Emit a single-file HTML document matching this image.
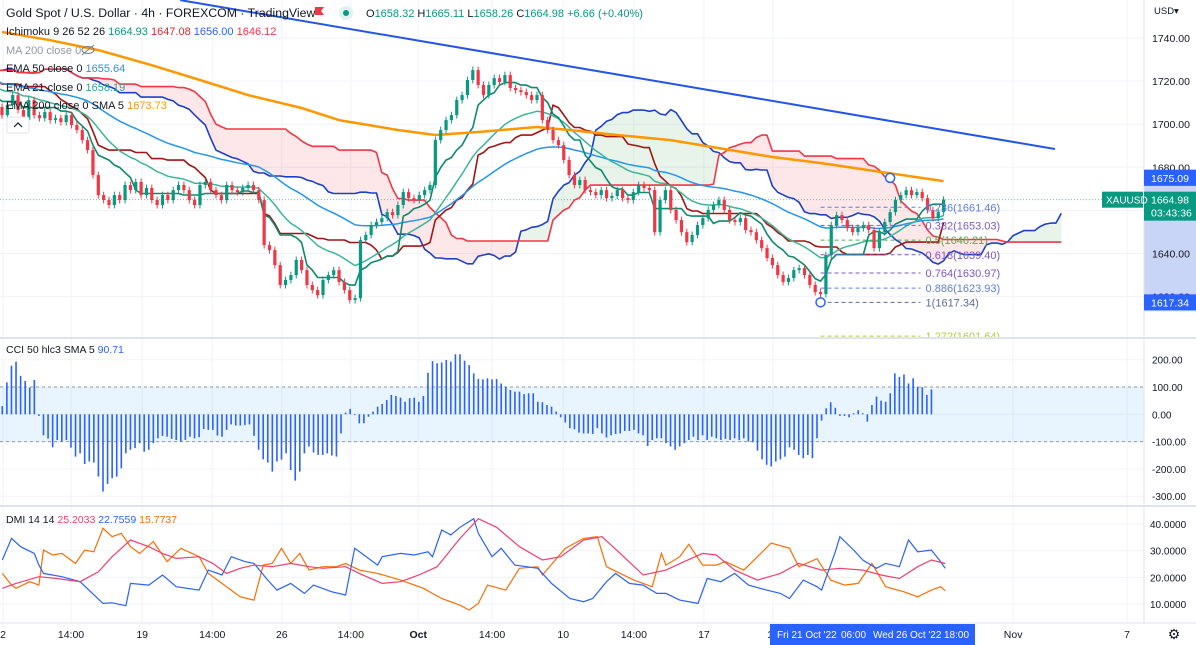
<!DOCTYPE html>
<html><head><meta charset="utf-8">
<style>
body{margin:0;background:#fff;font-family:"Liberation Sans",sans-serif;}
#wrap{position:relative;width:1196px;height:645px;overflow:hidden;}
svg{position:absolute;left:0;top:0;}
text{font-family:"Liberation Sans",sans-serif;}
</style></head>
<body>
<div id="wrap">
<svg id="c" width="1196" height="645" viewBox="0 0 1196 645">
<defs>
<clipPath id="mainClip"><rect x="0" y="0" width="1144" height="337"/></clipPath>
<clipPath id="cciClip"><rect x="0" y="339" width="1144" height="166"/></clipPath>
<clipPath id="dmiClip"><rect x="0" y="507" width="1144" height="115"/></clipPath>
</defs>
<g id="grid"></g>
<g id="main" clip-path="url(#mainClip)"></g>
<g id="cci" clip-path="url(#cciClip)"></g>
<g id="dmi" clip-path="url(#dmiClip)"></g>
<g id="axes"></g>
<g id="overlay">
 <text x="6" y="17" font-size="12.3" fill="#131722">Gold Spot / U.S. Dollar · 4h · FOREXCOM · TradingView</text>
 <path d="M315 7 h9 l-3 4 l3 4 h-9 z" fill="#f23645"/>
 <circle cx="346" cy="13" r="7" fill="#e0f2ef"/>
 <circle cx="346" cy="13" r="3" fill="#089981"/>
 <text x="366" y="17" font-size="11" fill="#089981"><tspan fill="#131722">O</tspan>1658.32 <tspan fill="#131722">H</tspan>1665.11 <tspan fill="#131722">L</tspan>1658.26 <tspan fill="#131722">C</tspan>1664.98 +6.66 (+0.40%)</text>
 <text x="6" y="35" font-size="11" fill="#131722">Ichimoku 9 26 52 26 <tspan fill="#089981">1664.93</tspan> <tspan fill="#d32f2f">1647.08</tspan> <tspan fill="#2962ff">1656.00</tspan> <tspan fill="#f23645">1646.12</tspan></text>
 <text x="6" y="54" font-size="11" fill="#9598a1">MA 200 close 0</text>
 <g><ellipse cx="88" cy="50" rx="6" ry="3.5" fill="none" stroke="#787b86"/><line x1="82" y1="55" x2="94" y2="45" stroke="#787b86"/></g>
 <text x="6" y="72" font-size="11" fill="#131722">EMA 50 close 0 <tspan fill="#2196f3">1655.64</tspan></text>
 <text x="6" y="91" font-size="11" fill="#131722">EMA 21 close 0 <tspan fill="#26a69a">1658.19</tspan></text>
 <text x="6" y="109" font-size="11" fill="#131722">EMA 200 close 0 SMA 5 <tspan fill="#ff9800">1673.73</tspan></text>
 <g><rect x="7" y="117" width="22" height="16" rx="2" fill="#fff" stroke="#e0e3eb"/><path d="M14 127 l4 -4 l4 4" fill="none" stroke="#131722" stroke-width="1.2"/></g>
 <text x="6" y="353" font-size="10.5" fill="#131722">CCI 50 hlc3 SMA 5 <tspan fill="#2962ff">90.71</tspan></text>
 <text x="6" y="523" font-size="10.5" fill="#131722">DMI 14 14 <tspan fill="#f23f6e">25.2033</tspan> <tspan fill="#2962ff">22.7559</tspan> <tspan fill="#ff6d00">15.7737</tspan></text>
</g>
</svg>
</div>
<script>
// ---------- DATA ----------
const historyCloses=[1720,1722,1725,1728,1730,1726,1724,1727,1729,1725,1722,1718,1720,1723,1727,1730,1733,1729,1726,1722,1719,1715,1712,1710,1714,1717,1712,1709,1711,1708];
const closes=[1704.2,1708.9,1713.5,1706.6,1701.9,1711.2,1704.2,1702.8,1705.6,1701.9,
1702.8,1701.0,1704.2,1699.6,1697.3,1692.6,1688.0,1676.4,1667.1,1664.8,
1662.5,1667.1,1664.8,1671.8,1669.4,1673.2,1667.1,1670.4,1664.8,1662.5,
1667.1,1664.8,1669.4,1671.8,1669.4,1664.8,1662.5,1671.8,1673.2,1669.4,
1667.1,1664.8,1671.8,1669.4,1668.5,1670.4,1671.8,1669.4,1664.8,1643.9,
1641.6,1634.6,1625.4,1627.7,1630.0,1637.0,1632.3,1625.4,1623.0,1620.7,
1627.7,1630.0,1632.3,1626.8,1623.0,1618.4,1619.3,1646.2,1648.6,1653.2,
1654.6,1656.4,1659.2,1657.8,1662.5,1668.5,1665.7,1664.8,1667.1,1669.4,
1671.8,1692.6,1697.3,1701.9,1704.2,1711.2,1713.5,1720.5,1725.1,1718.2,
1713.5,1718.2,1721.4,1719.6,1722.8,1716.8,1715.8,1714.9,1713.5,1711.2,
1713.5,1701.9,1697.3,1692.6,1690.3,1683.4,1676.4,1671.8,1674.1,1669.4,
1668.5,1667.1,1669.4,1665.7,1666.7,1669.4,1665.7,1664.8,1668.5,1671.8,
1670.4,1669.4,1649.9,1664.8,1669.4,1660.2,1655.5,1649.9,1645.3,1648.6,
1653.2,1656.4,1660.2,1662.5,1664.8,1660.2,1655.5,1654.6,1656.4,1650.9,
1649.9,1646.2,1642.5,1637.9,1634.6,1630.0,1626.8,1628.6,1632.3,1633.2,
1630.0,1625.4,1622.1,1621.2,1639.3,1653.2,1657.8,1655.5,1651.8,1649.9,
1651.8,1653.2,1650.9,1642.5,1649.9,1654.6,1659.2,1664.8,1667.1,1669.4,
1667.1,1668.5,1665.7,1660.2,1656.4,1659.2,1664.98];
const ema200Bars=[0,9,18,28,37,46,56,63,74,81,89,100,106,115,125,134,144,153,162,176];
const ema200Vals=[1742.8,1739.0,1734.4,1727.4,1720.5,1713.5,1707.5,1701.9,1697.3,1695.0,1696.4,1698.7,1697.3,1695.0,1692.6,1688.9,1684.8,1682.0,1678.7,1673.6];
const trendBars=[33.3,196.8];
const trendVals=[1757.6,1688.5];
const fibLow=1617.34, fibHigh=1675.09, fibLowBar=153, fibHighBar=166;
const fibRatios=[0.236,0.382,0.5,0.618,0.764,0.886,1,1.272];
const fibLabels=["0.236(1661.46)","0.382(1653.03)","0.5(1646.21)","0.618(1639.40)","0.764(1630.97)","0.886(1623.93)","1(1617.34)","1.272(1601.64)"];
const priceTicks=[1740,1720,1700,1680,1640,1620];
const cciVals=[30,117,178,193,141,122,98,126,-6,-77,-89,-121,-94,-100,-94,-122,-155,-143,-182,-173,-177,-228,-283,-255,-234,-228,-198,-143,-130,-124,-106,-137,-130,-106,-88,-79,-82,-90,-94,-100,-94,-82,-88,-84,-54,-57,-57,-78,-82,-57,-37,-41,-41,-39,-37,-79,-130,-165,-177,-210,-173,-166,-143,-204,-243,-210,-143,-118,-140,-149,-149,-143,-151,-155,-70,6,20,0,-33,-33,-9,10,28,38,52,71,67,61,46,59,61,46,67,152,195,187,190,199,193,220,220,196,180,150,129,128,132,128,129,113,101,89,83,83,74,77,77,46,44,34,28,10,-11,-30,-51,-55,-67,-70,-70,-72,-51,-70,-85,-77,-72,-70,-61,-61,-57,-70,-77,-116,-94,-88,-88,-106,-118,-130,-118,-106,-94,-82,-94,-77,-94,-82,-88,-94,-90,-94,-88,-94,-88,-100,-102,-133,-165,-185,-191,-173,-165,-155,-121,-130,-149,-161,-149,-161,-88,-23,22,44,24,-6,-6,-11,4,15,4,-27,34,65,50,46,77,150,137,146,113,132,101,99,71,91];
const cciTicks=[200,100,0,-100,-200,-300];
const cciTickLabels=["200.00","100.00","0.00","-100.00","-200.00","-300.00"];
const dmiBlueBars=[0,2,4,7,8,9,13,17,22,24,27,28,32,35,38,43,45,48,50,53,55,58,60,63,66,68,72,75,77,79,82,83,87,90,93,94,96,98,100,103,104,107,109,112,117,120,124,127,129,132,134,137,140,143,145,148,152,154,157,160,163,167,170,172,175,178,179,182,183,186,188,191,193,196,198,200,203,205,206];
const dmiBlueVals=[26.5,34.6,31.5,29,24.6,21.5,20.25,18.4,10.25,10.5,9.4,17.75,17.1,20.9,16.5,15.25,22.75,20.9,27.75,25.9,25.25,19,15.25,17.75,14,17.1,14.6,13.4,30.9,28.4,24.6,27.75,29,28.4,29.6,27.75,37.75,35.9,38.75,42,36.5,27.75,30.9,24.6,23.4,17.75,12.1,10.9,12.1,18.4,21.5,17.75,17.1,14,14,11.5,10.25,19.6,18.4,21.5,17.1,15.25,14,12.1,19,16.5,15.25,29.6,35.25,30.25,26.5,23.4,25.25,24,34,29.6,30.25,25.9,23.4];
const dmiOrangeBars=[0,2,3,6,8,9,11,13,16,18,20,22,24,26,28,30,33,36,39,43,45,48,52,55,57,59,61,63,65,67,70,73,75,78,82,87,92,96,100,102,104,106,110,113,117,118,123,127,130,132,135,138,142,144,145,148,150,153,156,158,162,165,168,172,174,178,181,184,187,190,193,197,200,203,205,206];
const dmiOrangeVals=[21.5,17.1,15.9,18.4,17.1,30.25,28.4,29,25.25,30.25,29.6,38.4,35.25,36.5,31.5,29,33.4,25.9,30.9,27.75,21.5,17.75,12.75,11.5,24.6,25.25,30.9,25.25,29,22.75,24,24,25.25,22.75,21.5,19,15.9,12.1,9.6,7.75,10.25,17.1,15.25,23.4,24,20.9,30.9,34.6,35.25,24,21.5,19,16.5,29,24.6,27.75,32.4,24.6,24.6,25.9,22.75,27.75,32.9,30.9,24,27,19,17.1,17.75,25.25,16.5,14.6,12.75,15.25,16.5,15];
const dmiRedBars=[0,3,8,12,17,21,24,28,32,35,38,43,46,49,52,55,59,63,67,70,75,78,83,87,91,95,100,104,108,113,118,122,127,131,135,140,145,149,153,156,160,165,170,174,179,183,188,192,196,200,203,206];
const dmiRedVals=[15.9,17.75,20.25,19.6,18.4,22.1,27.75,34,31.5,29,27.1,27.75,25.25,21.5,23.4,24.6,24,25.25,24,23.4,24,21.5,17.75,18.4,20.9,24,34.6,42,38.75,31.5,26.5,27.75,34,35.25,29,20.9,22.75,25.9,29,28.4,22.75,19,21.5,25.25,22.75,23.4,22.75,20.9,19.6,24,26.5,25.2];
const dmiTicks=[40,30,20,10];
const dmiTickLabels=["40.0000","30.0000","20.0000","10.0000"];
const timeTickBars=[0.2,12.9,26.2,39.3,52.3,65.2,77.8,91.6,104.9,118.1,131.2,144.1,189,210.3];
const timeTickLabels=["2","14:00","19","14:00","26","14:00","Oct","14:00","10","14:00","17","14","Nov","7"];

// ---------- SCALES ----------
const NS="http://www.w3.org/2000/svg";
const step=5.35;
const xBar=i=>2+i*step;
const yPrice=p=>38+(1740-p)*2.155;
const xSub=i=>2.3+i*4.577;
const yCci=v=>414.3-v*0.273;
const yDmi=v=>524+(40-v)*2.67;
function mk(tag,attrs,parent){const e=document.createElementNS(NS,tag);for(const k in attrs)e.setAttribute(k,attrs[k]);parent.appendChild(e);return e;}
function pathFrom(pts){return pts.map((p,i)=>(i?'L':'M')+p[0].toFixed(1)+' '+p[1].toFixed(1)).join(' ');}
const main=document.getElementById('main'),grid=document.getElementById('grid'),axes=document.getElementById('axes'),cciG=document.getElementById('cci'),dmiG=document.getElementById('dmi');

// ---------- GRID ----------
timeTickBars.forEach(b=>{const l=mk('line',{x1:xBar(b),x2:xBar(b),y1:0,y2:623,stroke:'#f0f3fa'},grid);

});
priceTicks.concat([1660]).forEach(p=>{const l=mk('line',{x1:0,x2:1144,y1:yPrice(p),y2:yPrice(p),stroke:'#f0f3fa'},grid);

});
cciTicks.forEach(v=>{const l=mk('line',{x1:0,x2:1144,y1:yCci(v),y2:yCci(v),stroke:'#f0f3fa'},grid);

});
dmiTicks.forEach(v=>{const l=mk('line',{x1:0,x2:1144,y1:yDmi(v),y2:yDmi(v),stroke:'#f0f3fa'},grid);

});

// ---------- OHLC ----------
const all=historyCloses.concat(closes);
const H=historyCloses.length;
const opens=all.map((c,i)=>i?all[i-1]:c);
const highs=all.map((c,i)=>Math.max(c,opens[i])+1.6);
const lows=all.map((c,i)=>Math.min(c,opens[i])-1.6);

// ---------- ICHIMOKU (periods scaled to this bar spacing) ----------
const pT=8,pK=22,pB=45,disp=22;
function mid(n,i){let hi=-1e9,lo=1e9;for(let k=Math.max(0,i-n+1);k<=i;k++){hi=Math.max(hi,highs[k]);lo=Math.min(lo,lows[k]);}return (hi+lo)/2;}
const tenkan=all.map((_,i)=>mid(pT,i)),kijun=all.map((_,i)=>mid(pK,i)),sB=all.map((_,i)=>mid(pB,i));
const sA=all.map((_,i)=>(tenkan[i]+kijun[i])/2);
const spanPts=[];
for(let j=0;j<all.length;j++){const vis=j+disp-H;spanPts.push([xBar(vis),yPrice(sA[j]),yPrice(sB[j]),sA[j]>=sB[j]]);}
for(let k=0;k<spanPts.length-1;k++){const a=spanPts[k],b=spanPts[k+1];
 const poly=mk('polygon',{points:`${a[0]},${a[1]} ${b[0]},${b[1]} ${b[0]},${b[2]} ${a[0]},${a[2]}`,fill:a[3]?'rgba(67,160,71,0.12)':'rgba(242,54,69,0.12)',stroke:'none'},main);
 
 }
function line(pts,color,w,name){const p=mk('path',{d:pathFrom(pts),fill:'none',stroke:color,'stroke-width':w,'stroke-linejoin':'round'},main);

return p;}
line(spanPts.map(s=>[s[0],s[1]]),'#1e40c8',1.6,'ichimoku-leading-span-a');
line(spanPts.map(s=>[s[0],s[2]]),'#f23645',1.6,'ichimoku-leading-span-b');
line(all.map((c,j)=>[xBar(j-H),yPrice(kijun[j])]),'#a31515',1.6,'ichimoku-base-line');

function ema(n){let e=all[0];return all.map(c=>(e=e+(c-e)*2/(n+1)));}
const e50=ema(50),e21=ema(21);
line(all.map((c,j)=>[xBar(j-H),yPrice(e50[j])]),'#2196f3',1.5,'ema-50-line');
line(all.map((c,j)=>[xBar(j-H),yPrice(e21[j])]),'#3bb59a',1.5,'ema-21-line');
line(all.map((c,j)=>[xBar(j-H),yPrice(tenkan[j])]),'#0b8a6c',1.6,'ichimoku-conversion-line');
line(ema200Bars.map((b,i)=>[xBar(b),yPrice(ema200Vals[i])]),'#ff9800',2.5,'ema-200-line');
line(trendBars.map((b,i)=>[xBar(b),yPrice(trendVals[i])]),'#2455e8',2,'trend-line');

closes.forEach((c,i)=>{const j=i+H,o=opens[j],up=c>=o,col=up?'#089981':'#f23645',x=xBar(i);
 const g=mk('g',{},main);
 
 
 mk('line',{x1:x,x2:x,y1:yPrice(highs[j]),y2:yPrice(lows[j]),stroke:col,'stroke-width':1},g);
 const t=yPrice(Math.max(o,c)),bt=yPrice(Math.min(o,c));
 mk('rect',{x:x-1.6,y:t,width:3.2,height:Math.max(1,bt-t),fill:col},g);});

const lp=mk('line',{x1:0,x2:1144,y1:yPrice(closes[closes.length-1]),y2:yPrice(closes[closes.length-1]),stroke:'#089981','stroke-dasharray':'1 2','stroke-width':1,opacity:0.6},main);



const fibColors=['#5b7fe0','#7e57c2','#4caf50','#7e57c2','#7e57c2','#5b7fe0','#5d6b98','#b5cc3a'];
fibRatios.forEach((r,i)=>{const p=fibHigh-r*(fibHigh-fibLow),y=yPrice(p);
 const l=mk('line',{x1:xBar(fibLowBar),x2:xBar(fibLowBar)+100,y1:y,y2:y,stroke:fibColors[i],'stroke-dasharray':'4 3','stroke-width':1},main);
 
 
 const t=mk('text',{x:xBar(fibLowBar)+105,y:y+4,'font-size':11,fill:fibColors[i]},main);t.textContent=fibLabels[i];
 
 });
[[fibLowBar,fibLow],[fibHighBar,fibHigh]].forEach(a=>{const c=mk('circle',{cx:xBar(a[0]),cy:yPrice(a[1]),r:4.5,fill:'#fff',stroke:'#2962ff','stroke-width':1.5},main);
 
 });

// ---------- CCI ----------
const band=mk('rect',{x:0,y:yCci(100),width:1144,height:yCci(-100)-yCci(100),fill:'rgba(33,150,243,0.1)'},cciG);


[100,-100].forEach(v=>{const l=mk('line',{x1:0,x2:1144,y1:yCci(v),y2:yCci(v),stroke:'#9598a1','stroke-dasharray':'3 3'},cciG);

});
cciVals.forEach((v,i)=>{const r=mk('rect',{x:xSub(i)-0.8,y:Math.min(yCci(v),yCci(0)),width:1.6,height:Math.max(0.8,Math.abs(yCci(v)-yCci(0))),fill:'#2962ff'},cciG);
 
 });

// ---------- DMI ----------
function dline(bars,vals,color,name){const p=mk('path',{d:pathFrom(bars.map((b,i)=>[xSub(b),yDmi(vals[i])])),fill:'none',stroke:color,'stroke-width':1.2},dmiG);

}
dline(dmiOrangeBars,dmiOrangeVals,'#ff6d00','dmi-minus-line');
dline(dmiBlueBars,dmiBlueVals,'#2962ff','dmi-plus-line');
dline(dmiRedBars,dmiRedVals,'#f23f6e','adx-line');

// ---------- AXES ----------
function txt(x,y,s,size,fill,name,anchor){const t=mk('text',{x:x,y:y,'font-size':size,fill:fill,'text-anchor':anchor||'start'},axes);t.textContent=s;

return t;}
mk('rect',{x:1144,y:0,width:52,height:645,fill:'#fff'},axes);
const hl=mk('rect',{x:1144,y:yPrice(fibHigh)-9,width:52,height:yPrice(fibLow)-yPrice(fibHigh)+18,fill:'#c9d5f7'},axes);


mk('line',{x1:1144,x2:1144,y1:0,y2:623,stroke:'#e0e3eb'},axes);
mk('rect',{x:0,y:337,width:1196,height:2,fill:'#e0e3eb'},axes);
mk('rect',{x:0,y:505,width:1196,height:2,fill:'#e0e3eb'},axes);
mk('line',{x1:0,x2:1196,y1:623,y2:623,stroke:'#e0e3eb'},axes);
txt(1154,14,'USD▾',9.5,'#131722','currency-label');
priceTicks.forEach(p=>txt(1152,yPrice(p)+4,p.toFixed(2),10.5,'#131722','price-tick-label'));
function badge(y,h,bg,lines,name){const g=mk('g',{},axes);

mk('rect',{x:1144,y:y,width:52,height:h,fill:bg},g);lines.forEach((s,i)=>{const t=mk('text',{x:1151,y:y+12+i*13,'font-size':10.5,fill:'#fff'},g);t.textContent=s;});}
badge(yPrice(fibHigh)-8,16,'#2962ff',['1675.09'],'fib-high-badge');
badge(yPrice(closes[closes.length-1])-8,29,'#089981',['1664.98','03:43:36'],'last-price-badge');
badge(yPrice(fibLow)-8,16,'#2962ff',['1617.34'],'fib-low-badge');
const sym=mk('g',{},axes);

mk('rect',{x:1102,y:yPrice(closes[closes.length-1])-8,width:41,height:16,fill:'#089981'},sym);
const st=mk('text',{x:1106,y:yPrice(closes[closes.length-1])+4,'font-size':10,fill:'#fff'},sym);st.textContent='XAUUSD';
cciTicks.forEach((v,i)=>txt(1152,yCci(v)+4,cciTickLabels[i],10,'#131722','cci-tick-label'));
dmiTicks.forEach((v,i)=>txt(1150,yDmi(v)+4,dmiTickLabels[i],10,'#131722','dmi-tick-label'));
timeTickBars.forEach((b,i)=>{const t=txt(xBar(b),638,timeTickLabels[i],10.5,'#131722','time-tick-label','middle');if(timeTickLabels[i]==='Oct')t.setAttribute('font-weight','bold');});
const tb=mk('g',{},axes);

mk('rect',{x:770,y:624,width:205,height:21,fill:'#2962ff'},tb);
[['Fri 21 Oct \'22',777],['06:00',841],['Wed 26 Oct \'22',873],['18:00',944]].forEach(a=>{const t=mk('text',{x:a[1],y:638,'font-size':10,fill:'#fff'},tb);t.textContent=a[0];});
const gear=txt(1174,639,'⚙',14,'#131722','settings-gear','middle');
</script>
</body></html>
